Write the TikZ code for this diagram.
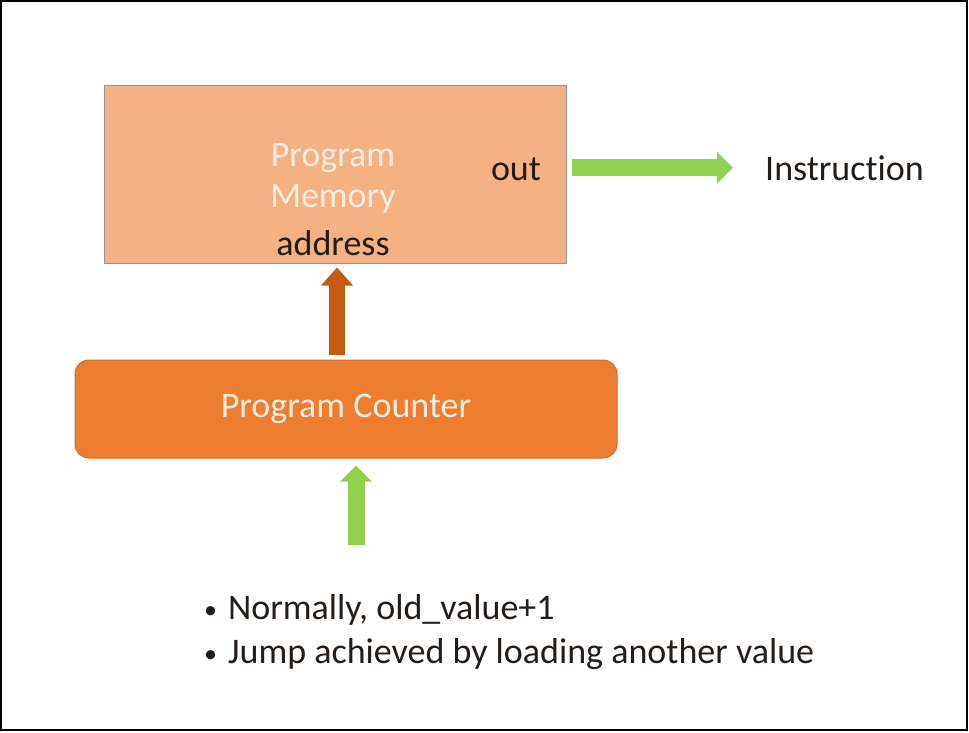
\documentclass[tikz,border=0pt]{standalone}
\usepackage{fontspec}
\setmainfont{Carlito}[Ligatures=NoCommon]
\usetikzlibrary{arrows.meta,positioning}
\definecolor{memFill}{RGB}{244,177,131}
\definecolor{memEdge}{RGB}{160,148,140}
\definecolor{pcFill}{RGB}{237,125,49}
\definecolor{pcEdge}{RGB}{210,108,40}
\definecolor{addrArrow}{RGB}{197,90,17}
\definecolor{flowGreen}{RGB}{146,208,80}
\definecolor{lightText}{RGB}{252,236,224}
\definecolor{darkText}{RGB}{35,28,24}
\newcommand\itemdot{\raisebox{1pt}{\fontsize{26}{26}\selectfont\textbullet}\hspace{11pt}}
\tikzset{
  mem/.style   ={rectangle, draw=memEdge, fill=memFill, line width=1pt,
                 minimum width=462pt, minimum height=178pt, inner sep=0pt},
  pcbox/.style ={rectangle, rounded corners=14pt, draw=pcEdge, fill=pcFill, line width=1pt,
                 minimum width=542pt, minimum height=98pt, text=lightText, inner sep=0pt},
  lbl/.style   ={inner sep=0pt, text=darkText, anchor=base},
  fatB/.style  ={line width=16pt, draw=addrArrow, -{Triangle[width=31pt,length=18pt]}},
  fatG/.style  ={line width=17pt, draw=flowGreen, -{Triangle[width=31pt,length=16pt]}},
  notes/.style ={inner sep=0pt, align=left, text=darkText, anchor=base west},
}
\begin{document}
\begin{tikzpicture}[x=1pt, y=-1pt, font=\fontsize{36}{44}\selectfont]
\useasboundingbox (0,0) rectangle (969,732);
\draw[line width=2pt] (1,1) rectangle (967,730);
\node[mem] (mem) at (335,174) {};
\node[lbl, text=lightText] (pmA) at (333,166) {Program};
\node[lbl, text=lightText] (pmB) at (333,207) {Memory};
\node[lbl] (addr) at (333,255) {address};
\node[lbl] (out) at (516,180) {out};
\node[lbl, anchor=base west] (instr) at (765,180) {Instruction};
\node[pcbox] (pc) at (346,409) {Program Counter};
\coordinate (load) at (356,545);
\node[notes] (notes) at (204,663) {\itemdot Normally, old\_value+1\\
   \itemdot Jump achieved by loading another value};
\draw[fatG, shorten <=5pt, shorten >=32pt] (instr.west -| mem.east) -- (instr.west);
\draw[fatB, shorten <=5pt, shorten >=4pt] ([xshift=-9pt]pc.north) -- ([xshift=-9pt]pc.north |- mem.south);
\draw[fatG, shorten >=7pt] (load) -- (load |- pc.south);
\end{tikzpicture}
\end{document}
